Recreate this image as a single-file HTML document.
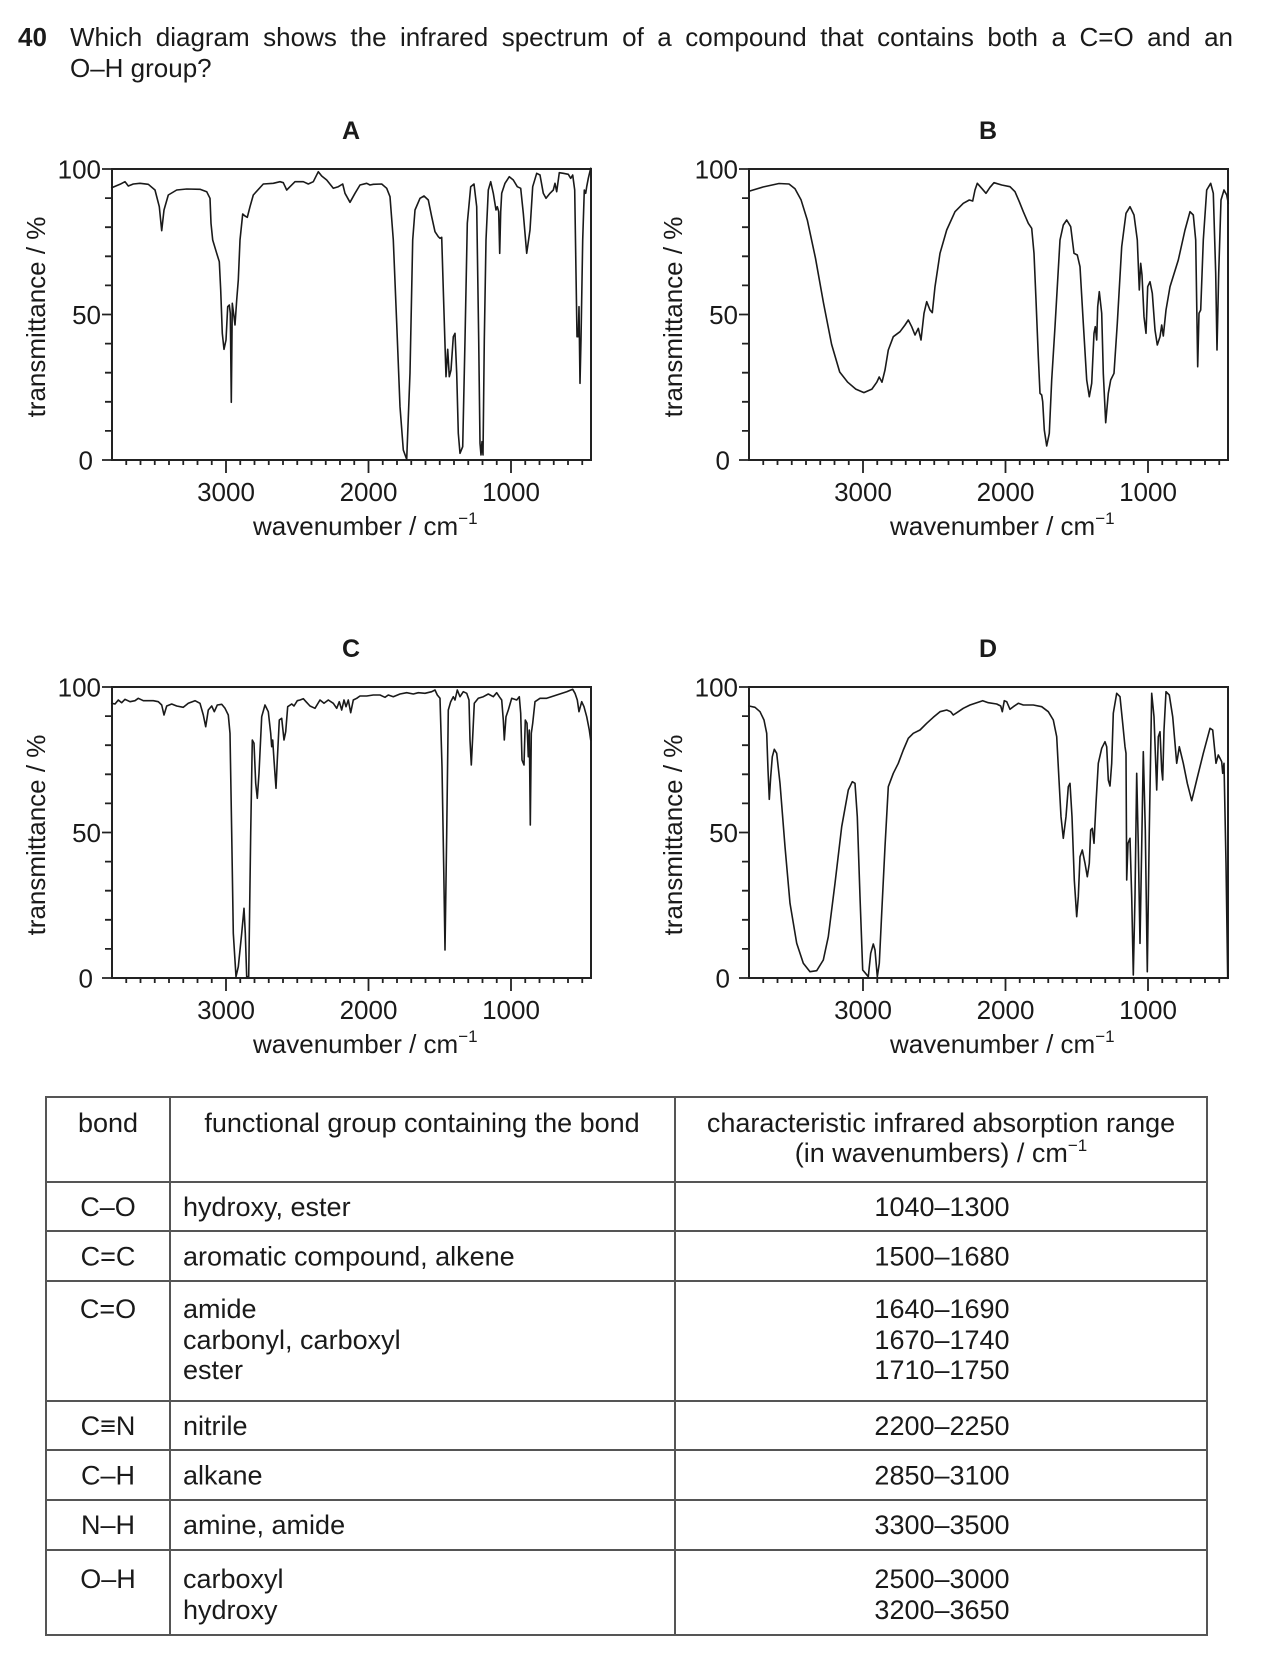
<!DOCTYPE html>
<html>
<head>
<meta charset="utf-8">
<style>
  html,body{margin:0;padding:0;background:#fff;}
  body{width:1261px;height:1653px;position:relative;overflow:hidden;font-family:"Liberation Sans",Arial,sans-serif;color:#1a1a1a;}
  .q{position:absolute;font-size:26px;line-height:26px;}
</style>
</head>
<body>
<div class="q" style="left:18px;top:24px;font-weight:bold;">40</div>
<div class="q" style="left:70px;top:24px;width:1163px;text-align:justify;text-align-last:justify;">Which diagram shows the infrared spectrum of a compound that contains both a C=O and an</div>
<div class="q" style="left:70px;top:55px;">O–H group?</div>

<svg width="1261" height="1653" style="position:absolute;left:0;top:0" font-family="'Liberation Sans', Arial, sans-serif" fill="#1a1a1a">

<!-- ============ AXES A (0,0) ============ -->
<g id="axA">
<rect x="112" y="169" width="479" height="291" fill="none" stroke="#222" stroke-width="2"/>
<path fill="none" stroke="#222" stroke-width="1.8" d="M102 460H112 M105 430.9H112 M105 401.8H112 M105 372.7H112 M105 343.6H112 M102 314.5H112 M105 285.4H112 M105 256.3H112 M105 227.2H112 M105 198.1H112 M102 169H112
M126.25 460V465 M140.5 460V465 M154.75 460V465 M169 460V465 M183.25 460V465 M197.5 460V465 M211.75 460V465 M226 460V473 M240.25 460V465 M254.5 460V465 M268.75 460V465 M283 460V465 M297.25 460V465 M311.5 460V465 M325.75 460V465 M340 460V465 M354.25 460V465 M368.5 460V473 M382.75 460V465 M397 460V465 M411.25 460V465 M425.5 460V465 M439.75 460V465 M454 460V465 M468.25 460V465 M482.5 460V465 M496.75 460V465 M511 460V473 M525.25 460V465 M539.5 460V465 M553.75 460V465 M568 460V465 M582.25 460V465"/>
<g font-size="26">
<text x="101" y="178.5" text-anchor="end">100</text>
<text x="101" y="324" text-anchor="end">50</text>
<text x="93" y="469.5" text-anchor="end">0</text>
<text x="226" y="501" text-anchor="middle">3000</text>
<text x="368.5" y="501" text-anchor="middle">2000</text>
<text x="511" y="501" text-anchor="middle">1000</text>
<text x="253" y="535">wavenumber / cm<tspan font-size="17" dy="-11">−1</tspan></text>
<text transform="translate(45,317) rotate(-90)" text-anchor="middle">transmittance / %</text>
</g>
<text x="351" y="139" font-size="25" font-weight="bold" text-anchor="middle">A</text>
</g>

<!-- ============ AXES B ============ -->
<g transform="translate(637,0)">
<rect x="112" y="169" width="479" height="291" fill="none" stroke="#222" stroke-width="2"/>
<path fill="none" stroke="#222" stroke-width="1.8" d="M102 460H112 M105 430.9H112 M105 401.8H112 M105 372.7H112 M105 343.6H112 M102 314.5H112 M105 285.4H112 M105 256.3H112 M105 227.2H112 M105 198.1H112 M102 169H112
M126.25 460V465 M140.5 460V465 M154.75 460V465 M169 460V465 M183.25 460V465 M197.5 460V465 M211.75 460V465 M226 460V473 M240.25 460V465 M254.5 460V465 M268.75 460V465 M283 460V465 M297.25 460V465 M311.5 460V465 M325.75 460V465 M340 460V465 M354.25 460V465 M368.5 460V473 M382.75 460V465 M397 460V465 M411.25 460V465 M425.5 460V465 M439.75 460V465 M454 460V465 M468.25 460V465 M482.5 460V465 M496.75 460V465 M511 460V473 M525.25 460V465 M539.5 460V465 M553.75 460V465 M568 460V465 M582.25 460V465"/>
<g font-size="26">
<text x="101" y="178.5" text-anchor="end">100</text>
<text x="101" y="324" text-anchor="end">50</text>
<text x="93" y="469.5" text-anchor="end">0</text>
<text x="226" y="501" text-anchor="middle">3000</text>
<text x="368.5" y="501" text-anchor="middle">2000</text>
<text x="511" y="501" text-anchor="middle">1000</text>
<text x="253" y="535">wavenumber / cm<tspan font-size="17" dy="-11">−1</tspan></text>
<text transform="translate(45,317) rotate(-90)" text-anchor="middle">transmittance / %</text>
</g>
<text x="351" y="139" font-size="25" font-weight="bold" text-anchor="middle">B</text>
</g>

<!-- ============ AXES C ============ -->
<g transform="translate(0,518)">
<rect x="112" y="169" width="479" height="291" fill="none" stroke="#222" stroke-width="2"/>
<path fill="none" stroke="#222" stroke-width="1.8" d="M102 460H112 M105 430.9H112 M105 401.8H112 M105 372.7H112 M105 343.6H112 M102 314.5H112 M105 285.4H112 M105 256.3H112 M105 227.2H112 M105 198.1H112 M102 169H112
M126.25 460V465 M140.5 460V465 M154.75 460V465 M169 460V465 M183.25 460V465 M197.5 460V465 M211.75 460V465 M226 460V473 M240.25 460V465 M254.5 460V465 M268.75 460V465 M283 460V465 M297.25 460V465 M311.5 460V465 M325.75 460V465 M340 460V465 M354.25 460V465 M368.5 460V473 M382.75 460V465 M397 460V465 M411.25 460V465 M425.5 460V465 M439.75 460V465 M454 460V465 M468.25 460V465 M482.5 460V465 M496.75 460V465 M511 460V473 M525.25 460V465 M539.5 460V465 M553.75 460V465 M568 460V465 M582.25 460V465"/>
<g font-size="26">
<text x="101" y="178.5" text-anchor="end">100</text>
<text x="101" y="324" text-anchor="end">50</text>
<text x="93" y="469.5" text-anchor="end">0</text>
<text x="226" y="501" text-anchor="middle">3000</text>
<text x="368.5" y="501" text-anchor="middle">2000</text>
<text x="511" y="501" text-anchor="middle">1000</text>
<text x="253" y="535">wavenumber / cm<tspan font-size="17" dy="-11">−1</tspan></text>
<text transform="translate(45,317) rotate(-90)" text-anchor="middle">transmittance / %</text>
</g>
<text x="351" y="139" font-size="25" font-weight="bold" text-anchor="middle">C</text>
</g>

<!-- ============ AXES D ============ -->
<g transform="translate(637,518)">
<rect x="112" y="169" width="479" height="291" fill="none" stroke="#222" stroke-width="2"/>
<path fill="none" stroke="#222" stroke-width="1.8" d="M102 460H112 M105 430.9H112 M105 401.8H112 M105 372.7H112 M105 343.6H112 M102 314.5H112 M105 285.4H112 M105 256.3H112 M105 227.2H112 M105 198.1H112 M102 169H112
M126.25 460V465 M140.5 460V465 M154.75 460V465 M169 460V465 M183.25 460V465 M197.5 460V465 M211.75 460V465 M226 460V473 M240.25 460V465 M254.5 460V465 M268.75 460V465 M283 460V465 M297.25 460V465 M311.5 460V465 M325.75 460V465 M340 460V465 M354.25 460V465 M368.5 460V473 M382.75 460V465 M397 460V465 M411.25 460V465 M425.5 460V465 M439.75 460V465 M454 460V465 M468.25 460V465 M482.5 460V465 M496.75 460V465 M511 460V473 M525.25 460V465 M539.5 460V465 M553.75 460V465 M568 460V465 M582.25 460V465"/>
<g font-size="26">
<text x="101" y="178.5" text-anchor="end">100</text>
<text x="101" y="324" text-anchor="end">50</text>
<text x="93" y="469.5" text-anchor="end">0</text>
<text x="226" y="501" text-anchor="middle">3000</text>
<text x="368.5" y="501" text-anchor="middle">2000</text>
<text x="511" y="501" text-anchor="middle">1000</text>
<text x="253" y="535">wavenumber / cm<tspan font-size="17" dy="-11">−1</tspan></text>
<text transform="translate(45,317) rotate(-90)" text-anchor="middle">transmittance / %</text>
</g>
<text x="351" y="139" font-size="25" font-weight="bold" text-anchor="middle">D</text>
</g>

<!-- ============ SPECTRA ============ -->
<g fill="none" stroke="#1a1a1a" stroke-width="1.6" stroke-linejoin="round" stroke-linecap="round">
<polyline points="111.7,187.7 120,184.3 125,181.7 128.3,186 133.3,184 140,183.3 148.3,184.3 155,190 159.3,206.7 161.7,230.7 164,210 168.3,195 176.7,190 186.7,189 200,189.3 206.7,191.7 210,198.3 211,223.3 212.7,240 216.7,253.3 219.3,261.7 220.7,290 222.3,333.3 224,349.3 226,340 227.7,306.7 229.3,305 230.3,313.3 231.3,402.3 232.3,303.3 234,316.7 235,325 236.7,300 238.3,280 240,240 242.7,214 245,216 247.3,217.3 250,206.7 253.3,195 263.3,184 273.3,183.3 280,181.7 283.3,182.7 286.7,190 290,186.7 295,181.7 303.3,181.7 308.3,184 313.3,181.7 318.3,171.7 321.7,176 326.7,180 333.3,188.3 338.3,186.7 342.7,184 345,193.3 350,202.3 355,193.3 360,185 366.7,183.3 370,185 373.3,184.3 381.7,184 386.7,188.3 390,196.7 393.3,240 396.7,323.3 400,406.7 403.3,450 406.7,459.3 410,373 412.7,240 415,210 420,198.3 424,196 428.3,200 431.7,216.7 435,231.7 438.3,236.7 440,238.3 441.7,237.3 443.3,290 446,376.7 447.7,349.3 449.3,376.7 451,370 453.3,336.7 455,333.3 456.7,373.3 458.3,433.3 460,453.3 462.7,446.7 465,340 467.3,223.3 470.7,186.7 474,184 476.7,206.7 478.7,340 480,443.3 481,455 482,441.7 483,455 484.3,340 486,240 488.3,190 490.7,181.7 493.3,193.3 496,210 497.3,206.7 498.7,211.7 499.7,253.3 500.7,211.7 501.7,193.3 505,183.3 509.3,176.7 513.3,180 517.3,186.7 520.7,188.3 523.3,213.3 526.7,253.3 530,230 532.7,186.7 536.7,173.3 540,175 543.3,193.3 546,198.3 550,193.3 553.3,190 555,183.3 556.7,191.7 559.3,172.7 563.3,173.3 568.3,174.3 570.7,178.3 572.7,175 574.7,190 576,273.3 577,336.7 578.3,336.7 579,306.7 580,383.3 581,340 582.7,240 584.3,190 585.7,193.3 586.7,186.7 588.3,178.3 590.7,168.3"/>

<polyline points="749.8,191 763,187 779,183.5 789,184 795,188.7 801,199.7 807.4,220.4 815.5,258.3 823.5,303 831.6,344.4 839.7,372 847.7,382.2 855.8,389.1 863.9,392.6 871.9,389.1 876.8,382.2 879.2,377 882,382.2 885,370 888.3,350 893.3,336.7 900,331.7 905,325 908.3,320 911.7,326.7 915,335 918.3,328.3 921,340 924,313.3 926.7,301.7 930,310 932.3,312.7 935,286.7 940,253.3 946.7,230 955,211.7 963.3,203.3 969.3,200 972.7,201 975,190 977.3,183.3 981.7,188.3 986,193.3 990,187.3 994,182.7 1001.7,185 1010,186.7 1015,191.7 1019.3,201.7 1023.3,211.7 1028.3,223.3 1031.7,228.3 1034,253.3 1036,300 1038.3,356.7 1040,393.3 1041.7,395 1042.7,401.7 1044.3,430 1046.7,446 1049.3,433.3 1051.7,380 1055,326.7 1060,240 1063.3,225 1066.7,220 1070.7,226.7 1074,253.3 1077.3,255 1080,266.7 1083.3,323.3 1086.7,380 1089.3,396.7 1091.7,383.3 1094,333.3 1095.3,326.7 1096.7,340 1097.7,306.7 1099.3,291.7 1101.7,313.3 1103.3,373.3 1105.7,422.7 1108.3,393.3 1110.7,380 1114,373.3 1117.3,323.3 1121.7,246.7 1126,213.3 1130,206.7 1134,215 1137.3,240 1139.3,290 1140.7,263.3 1142,275 1144,316.7 1146,333.3 1147.7,286.7 1150,281.7 1152.3,293.3 1155,330 1157.3,345 1160,336.7 1161.7,325 1163.3,336 1166,310 1170,286.7 1178.3,260 1185,230 1190,211.7 1193.3,215 1195.7,240 1197.7,366.7 1199,313.3 1200.7,310 1203.3,240 1206.7,190 1210.7,183.3 1213.3,193.3 1215.7,273.3 1217,350 1218.7,273.3 1221,200 1224,190 1226.7,195 1228.3,203.3"/>

<polyline points="111.7,703.3 115,704 118.3,700 121.7,702.7 125,699.3 130,701.7 135,700.7 138.3,698.3 143.3,700.7 153.3,700.7 158.3,701.7 161.7,705 164,715 166.7,706 171.7,704 176.7,706 183.3,707.3 188.3,703.3 195,700.7 200,703.3 203.3,715 205.7,726.7 208.3,710 211.7,706 214.3,711.7 217.3,705 221.7,704.3 225,708.3 228.3,715 230,733.3 231.7,833.3 233.3,933.3 236,976.7 238.3,966.7 241.7,933.3 244,908.3 245.3,933.3 246.7,976.7 248.7,976.7 250.7,833.3 252.3,740 254,743.3 255.7,783.3 257.3,798.3 259,773.3 261.7,716.7 265,705 268.3,711.7 270.7,733.3 271.7,746.7 272.7,740 274,760 276,788.3 277.3,760 279.3,720 281.7,718.3 284,740 285.7,731.7 287.7,706.7 291.7,704 294,706 297.3,700.7 300,700 303.3,698.7 306,701.7 310,706 315,708.3 320,700 324,703.3 328.3,700 333.3,703.3 336.7,708.3 339.3,701.7 341.7,710 344,700 346,706.7 348.3,700 350.7,712.7 353.3,700 356.7,698.3 360,696 366.7,696 373.3,695 380,695 385,697.3 388.3,695 393.3,696.7 400,694 406.7,692.7 413.3,694 418.3,692.7 425,693.3 431.7,691.7 435,690 437.3,695 440,698.3 442,766.7 443.7,866.7 445,950 446.7,833.3 448.3,710 450.7,701.7 453.3,696.7 455,700 457.3,690 460,696.7 463.3,691.7 466.7,693.3 469,700 470,740 471.3,765 472.7,736.7 474.3,703.3 478.3,698.3 483.3,696.7 488.3,694 493.3,696.7 496.7,692.7 499.3,696.7 501.7,700 503.3,720 504.3,740 506,716.7 508.3,710 511.7,698.3 516.7,700 519.3,696.7 520.7,713.3 522,760 524,765 525.3,720 527,723.3 528.3,756.7 529.3,730 530.3,825 531.3,733.3 532.7,723.3 535,701.7 540,698.3 546.7,698.3 556.7,695 566.7,691.7 572.7,689.3 575,693.3 577.3,700 579,711.7 581.7,701.7 584,706.7 586.7,716.7 589.3,730 590.7,740"/>

<polyline points="749,706 755,707.3 760,711.7 764,720 766.7,733.3 768,770 769.3,799.3 770.7,776.7 772.3,756.7 774.3,749.3 776.7,753.3 780,783.3 785,846.7 790,903.3 796.7,943.3 803.3,963.3 810,971.7 816.7,970.7 823.3,960 828.3,936.7 835,883.3 841.7,826.7 848.3,790 852.3,781.7 855,783.3 857.3,816.7 860,896.7 862.7,970 865,972.7 868.3,976.7 870.7,953.3 873.3,944 875,950 877.3,976.7 879.3,963.3 881.7,913.3 885,846.7 888.3,786.7 893.3,773.3 898.3,763.3 903.3,750 908.3,738.3 913.3,733.3 920,730 926.7,723.3 933.3,717.3 940,711.7 946.7,710 950.7,711.7 953.3,715 958.3,711.7 963.3,708.3 970,705 976.7,702.7 982.7,700.7 988.3,702.7 996.7,704 1000.7,706 1002.3,711.7 1004.3,700.7 1006.7,701.7 1010,709.3 1013.3,706.7 1018.3,703.3 1023.3,705 1033.3,705 1041.7,706.7 1048.3,711.7 1053.3,720 1056.7,736.7 1059,780 1061,816.7 1063.3,838.3 1066,816.7 1068.3,786.7 1070,783.3 1072,816.7 1074.3,880 1076.7,916.7 1078.3,896.7 1080,856.7 1082.3,850 1085,863.3 1087.3,876.7 1089.3,863.3 1090.7,830 1092.3,828.3 1094,843.3 1096,803.3 1098.3,763.3 1101.7,748.3 1105,741.7 1106.7,746.7 1108.3,780 1110,786 1111.7,763.3 1113.3,713.3 1116.7,693.3 1120,696.7 1122.7,723.3 1125,746.7 1126,753.3 1126.7,880 1128,843.3 1130,838.3 1131.7,896.7 1133.3,975 1135,896.7 1136.7,773.3 1138.3,846.7 1140,943.3 1141.7,846.7 1143.3,751.7 1145.3,830 1147.3,971.7 1149.3,830 1151.7,693.3 1154,716.7 1156.7,790 1158.3,736.7 1160,731.7 1161.7,770 1162.7,780 1164,730 1166,691.7 1169.3,695 1172.7,716.7 1175,743.3 1176.7,763.3 1179.3,746.7 1183.3,763.3 1187.3,783.3 1191.7,800.7 1196.7,780 1203.3,753.3 1210,728.3 1212.7,730 1214.7,750 1216,763.3 1218.3,755 1220,758.3 1221.7,761.7 1222.7,773.3 1224,763.3 1226,863.3 1227.7,978.3"/>
</g>

<!-- ============ TABLE ============ -->
<g fill="none" stroke="#555" stroke-width="2">
<rect x="46" y="1097" width="1161" height="538"/>
<path d="M170 1097V1635 M675 1097V1635 M46 1182H1207 M46 1231H1207 M46 1281H1207 M46 1401H1207 M46 1450H1207 M46 1500H1207 M46 1550H1207"/>
</g>
<g font-size="27">
<text x="108" y="1132" text-anchor="middle">bond</text>
<text x="422" y="1132" text-anchor="middle">functional group containing the bond</text>
<text x="941" y="1132" text-anchor="middle">characteristic infrared absorption range</text>
<text x="941" y="1162" text-anchor="middle">(in wavenumbers) / cm<tspan font-size="17" dy="-11">−1</tspan></text>

<text x="108" y="1216" text-anchor="middle">C–O</text>
<text x="183" y="1216">hydroxy, ester</text>
<text x="942" y="1216" text-anchor="middle">1040–1300</text>

<text x="108" y="1265.5" text-anchor="middle">C=C</text>
<text x="183" y="1265.5">aromatic compound, alkene</text>
<text x="942" y="1265.5" text-anchor="middle">1500–1680</text>

<text x="108" y="1318" text-anchor="middle">C=O</text>
<text x="183" y="1318">amide</text>
<text x="183" y="1349">carbonyl, carboxyl</text>
<text x="183" y="1379">ester</text>
<text x="942" y="1318" text-anchor="middle">1640–1690</text>
<text x="942" y="1349" text-anchor="middle">1670–1740</text>
<text x="942" y="1379" text-anchor="middle">1710–1750</text>

<text x="108" y="1435" text-anchor="middle">C≡N</text>
<text x="183" y="1435">nitrile</text>
<text x="942" y="1435" text-anchor="middle">2200–2250</text>

<text x="108" y="1484.5" text-anchor="middle">C–H</text>
<text x="183" y="1484.5">alkane</text>
<text x="942" y="1484.5" text-anchor="middle">2850–3100</text>

<text x="108" y="1534" text-anchor="middle">N–H</text>
<text x="183" y="1534">amine, amide</text>
<text x="942" y="1534" text-anchor="middle">3300–3500</text>

<text x="108" y="1588" text-anchor="middle">O–H</text>
<text x="183" y="1588">carboxyl</text>
<text x="183" y="1619">hydroxy</text>
<text x="942" y="1588" text-anchor="middle">2500–3000</text>
<text x="942" y="1619" text-anchor="middle">3200–3650</text>
</g>
</svg>
</body>
</html>
